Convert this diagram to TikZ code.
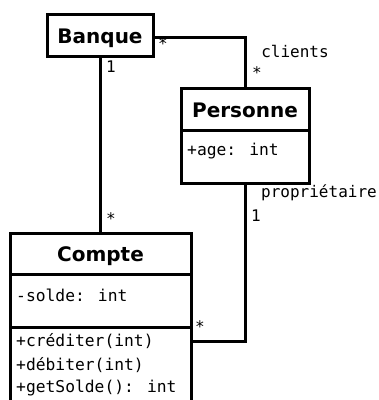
\documentclass[tikz,border=0pt]{standalone}
\usepackage{fontspec}
\setmainfont{DejaVu Sans}
\newfontfamily\monofont{DejaVu Sans Mono}
\begin{document}
\begin{tikzpicture}[x=1pt,y=-1pt,
  box/.style={draw,line width=3pt,rectangle,inner sep=0pt,fill=white},
  title/.style={font=\fontsize{20}{24}\selectfont\bfseries,text depth=1pt,text height=17pt},
  mono/.style={font=\fontsize{16.3}{19}\selectfont\monofont,inner sep=0pt,anchor=west},
  conn/.style={line width=3pt},
  mult/.style={font=\fontsize{16}{19}\selectfont\monofont,inner sep=0pt}]
\useasboundingbox (0,0) rectangle (379,400);
\begin{scope}
\clip (0,0) rectangle (379,400);
% Banque
\node[box,title,minimum width=106pt,minimum height=42pt] (banque) at (100,35) {Banque};
% Personne
\node[box,title,minimum width=128pt,minimum height=42pt] (ptitle) at (245,109) {Personne};
\node[box,minimum width=128pt,minimum height=53pt] (pattr) at (245,156.5) {};
\node[mono] (page) at (187,151) {+age: int};
% Compte
\node[box,title,minimum width=181pt,minimum height=41pt] (ctitle) at (100.5,253.5) {Compte};
\node[box,minimum width=181pt,minimum height=53pt] (cattr) at (100.5,300.5) {};
\node[box,minimum width=181pt,minimum height=90pt] (cmeth) at (100.5,372) {};
\node[mono] (csolde) at (16,295) {-solde: int};
\node[mono] (m1) at (16,341) {+créditer(int)};
\node[mono] (m2) at (16,365) {+débiter(int)};
\node[mono] (m3) at (16,388) {+getSolde(): int};
% connectors
\coordinate (bq) at (153,37);
\draw[conn] (bq) -- (bq -| ptitle.north) -- (ptitle.north);
\draw[conn] (banque.south) -- (ctitle.north -| banque.south);
\coordinate (cm) at (191,341);
\draw[conn] (pattr.south) -- (cm -| pattr.south) -- (cm);
% multiplicities
\node[mult] (l1) at (163,44) {*};
\node[mult] (l2) at (111,67) {1};
\node[mult] (l3) at (295,51) {clients};
\node[mult] (l4) at (257,73) {*};
\node[mult,anchor=west] (l5) at (261,193) {propriétaire};
\node[mult] (l6) at (256,216) {1};
\node[mult] (l7) at (111,219) {*};
\node[mult] (l8) at (200,327) {*};
\end{scope}
\end{tikzpicture}
\end{document}
